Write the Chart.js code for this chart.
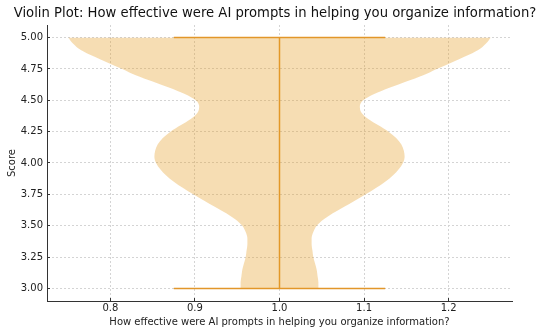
<!DOCTYPE html>
<html>
<head>
<meta charset="utf-8">
<script src="https://cdn.jsdelivr.net/npm/chart.js@4/dist/chart.umd.min.js"></script>
<style>
  html, body { margin: 0; padding: 0; background: #ffffff; }
  #wrap { width: 550px; height: 334px; }
</style>
</head>
<body>
<div id="wrap"><canvas id="c" width="550" height="334"></canvas></div>
<script>
// ---- data ----
const chartTitle = "Violin Plot: How effective were AI prompts in helping you organize information?";
const xAxisTitle = "How effective were AI prompts in helping you organize information?";
const yAxisTitle = "Score";

// score levels at which the violin's half-width was read (bottom → top)
const scoreLevels = [3.00, 3.05, 3.10, 3.15, 3.20, 3.25, 3.30, 3.35, 3.40, 3.45,
                     3.50, 3.55, 3.60, 3.65, 3.70, 3.75, 3.80, 3.85, 3.90, 3.95,
                     4.00, 4.05, 4.10, 4.15, 4.20, 4.25, 4.30, 4.35, 4.40, 4.45,
                     4.50, 4.55, 4.60, 4.65, 4.70, 4.75, 4.80, 4.85, 4.90, 4.95, 5.00];
// half-width of the violin body (x units) at each level
const violinHalfWidth = [0.046, 0.046, 0.045, 0.044, 0.042, 0.040, 0.039, 0.038, 0.038, 0.040,
                         0.044, 0.052, 0.063, 0.076, 0.089, 0.102, 0.114, 0.125, 0.134, 0.141,
                         0.146, 0.148, 0.147, 0.144, 0.138, 0.129, 0.117, 0.105, 0.097, 0.095,
                         0.099, 0.112, 0.130, 0.150, 0.170, 0.186, 0.203, 0.220, 0.235, 0.244, 0.250];
const violinPosition = 1.0;
const scoreMin = 3.0;
const scoreMax = 5.0;
const capHalfWidth = 0.125;

const xTicks = [0.8, 0.9, 1.0, 1.1, 1.2];
const yTicks = [3.00, 3.25, 3.50, 3.75, 4.00, 4.25, 4.50, 4.75, 5.00];

// ---- build datasets ----
const leftEdge = scoreLevels.map((s, i) => ({ x: violinPosition - violinHalfWidth[i], y: s }));
const rightEdge = scoreLevels.map((s, i) => ({ x: violinPosition + violinHalfWidth[i], y: s }));

const fillColor = 'rgba(228,158,36,0.35)';
const lineColor = 'rgb(226,150,42)';

Chart.defaults.font.family = "'DejaVu Sans', sans-serif";
Chart.defaults.color = '#222';

new Chart(document.getElementById('c'), {
  type: 'line',
  data: {
    datasets: [
      { data: leftEdge, borderWidth: 0, borderColor: 'rgba(0,0,0,0)', backgroundColor: fillColor,
        fill: '+1', pointRadius: 0, cubicInterpolationMode: 'monotone' },
      { data: rightEdge, borderWidth: 0, borderColor: 'rgba(0,0,0,0)', backgroundColor: fillColor,
        fill: false, pointRadius: 0, cubicInterpolationMode: 'monotone' },
      { data: [{ x: violinPosition, y: scoreMin }, { x: violinPosition, y: scoreMax }],
        borderColor: lineColor, borderWidth: 1.5, pointRadius: 0, fill: false, tension: 0 },
      { data: [{ x: violinPosition - capHalfWidth, y: scoreMax }, { x: violinPosition + capHalfWidth, y: scoreMax }],
        borderColor: lineColor, borderWidth: 1.5, pointRadius: 0, fill: false, tension: 0 },
      { data: [{ x: violinPosition - capHalfWidth, y: scoreMin }, { x: violinPosition + capHalfWidth, y: scoreMin }],
        borderColor: lineColor, borderWidth: 1.5, pointRadius: 0, fill: false, tension: 0 }
    ]
  },
  options: {
    indexAxis: 'y',
    responsive: false,
    devicePixelRatio: 1,
    animation: false,
    layout: { padding: { left: 0, right: 0, top: 0, bottom: 0 } },
    plugins: {
      legend: { display: false },
      tooltip: { enabled: false },
      title: {
        display: true, text: chartTitle, color: '#111',
        font: { size: 13.2, weight: 'normal' },
        padding: { top: 5.5, bottom: 3.66 }
      }
    },
    scales: {
      x: {
        type: 'linear', position: 'bottom', min: 0.725, max: 1.275,
        afterBuildTicks: (axis) => { axis.ticks = xTicks.map(v => ({ value: v })); },
        afterFit: (axis) => { axis.height = 33; },
        ticks: { callback: (v) => Number(v).toFixed(1), padding: 4.5, font: { size: 10 }, color: '#222', maxRotation: 0 },
        grid: { color: '#d4d4d4', drawTicks: true, tickLength: -3, tickColor: '#333', tickWidth: 1, lineWidth: 1 },
        border: { display: true, color: '#333', width: 1, dash: [2, 2] },
        title: { display: true, text: xAxisTitle, font: { size: 10 }, color: '#222', padding: { top: 0, bottom: 5.5 } }
      },
      y: {
        type: 'linear', position: 'left', min: 2.9, max: 5.1,
        afterBuildTicks: (axis) => { axis.ticks = yTicks.map(v => ({ value: v })); },
        afterFit: (axis) => { axis.width = 47; },
        ticks: { callback: (v) => Number(v).toFixed(2), padding: 7, font: { size: 10 }, color: '#222' },
        grid: { color: '#d4d4d4', drawTicks: true, tickLength: -3, tickColor: '#333', tickWidth: 1, lineWidth: 1 },
        border: { display: true, color: '#333', width: 1, dash: [2, 2] },
        title: { display: true, text: yAxisTitle, font: { size: 10 }, color: '#222', padding: { top: 6.7, bottom: 0 } }
      },
      yRight: {
        type: 'linear', position: 'right', display: true,
        afterFit: (axis) => { axis.width = 38; },
        ticks: { display: false },
        grid: { display: false, drawOnChartArea: false },
        border: { display: false },
        title: { display: false }
      }
    }
  }
});
</script>
</body>
</html>
